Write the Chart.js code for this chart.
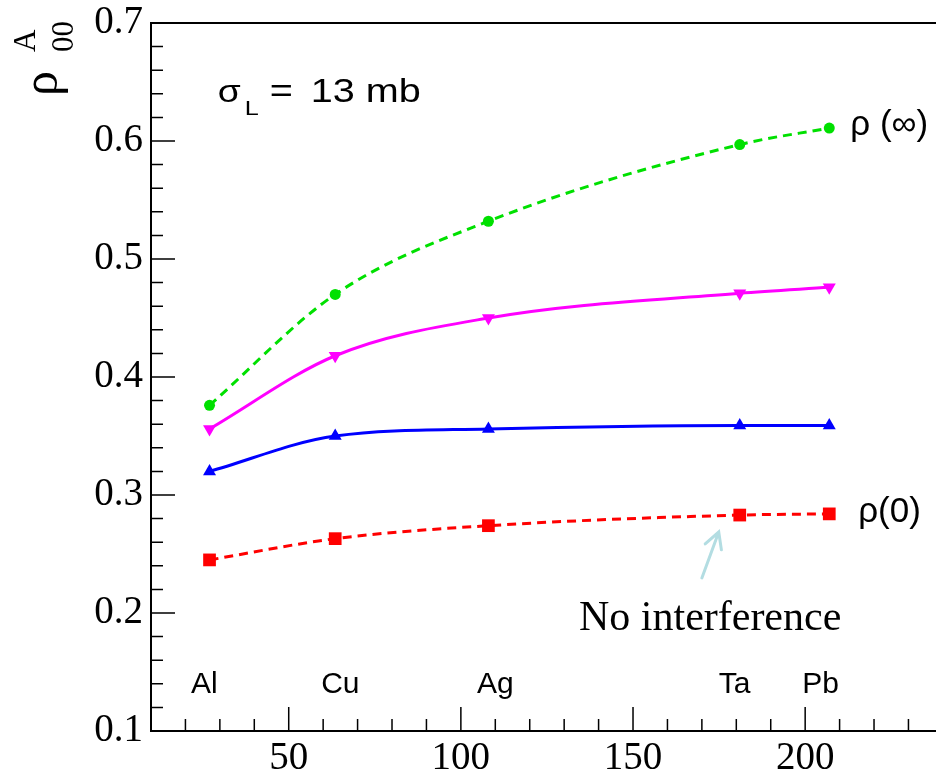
<!DOCTYPE html>
<html>
<head>
<meta charset="utf-8">
<script src="https://cdn.jsdelivr.net/npm/chart.js@4.4.1/dist/chart.umd.min.js"></script>
<style>
  html, body { margin: 0; padding: 0; background: #fff; }
  #rhoChart { display: block; }
</style>
</head>
<body>
<canvas id="rhoChart" width="936" height="778"></canvas>
<script>
// --- data ---
const massNumbers = [27, 63.5, 108, 181, 207];
const elementNames = ['Al', 'Cu', 'Ag', 'Ta', 'Pb'];
const rhoInfinity = [0.376, 0.470, 0.532, 0.597, 0.611];
const rhoMagenta = [0.356, 0.418, 0.450, 0.471, 0.476];
const rhoBlue = [0.320, 0.350, 0.356, 0.359, 0.359];
const rhoZero = [0.245, 0.263, 0.274, 0.283, 0.284];

const xTickValues = [50, 100, 150, 200];
const yTickValues = [0.1, 0.2, 0.3, 0.4, 0.5, 0.6, 0.7];

// label spots in axis units
const elementLabelX = [25.5, 65, 110, 179.5, 204.5];
const elementLabelY = 0.132;

const serif = '"Liberation Serif", "Times New Roman", serif';
const sans = '"Liberation Sans", Arial, sans-serif';

const toPoints = ys => massNumbers.map((x, i) => ({ x: x, y: ys[i] }));

function makeSet(label, values, color, style, radius, dashed, rotation) {
    return {
        label: label,
        data: toPoints(values),
        borderColor: color,
        backgroundColor: color,
        borderWidth: 3,
        borderDash: dashed ? [9, 6] : [],
        cubicInterpolationMode: 'monotone',
        pointStyle: style,
        pointRadius: radius,
        pointRotation: rotation || 0,
        pointBorderWidth: 0,
        fill: false
    };
}

// stretched sans text, like the original's wide Helvetica
function wideText(c, txt, x, y, size) {
    c.save();
    c.font = size + 'px ' + sans;
    c.translate(x, y);
    c.scale(1.2, 1);
    c.fillText(txt, 0, 0);
    c.restore();
}

// --- ticks, frame and annotations ---
const decorPlugin = {
    id: 'decor',
    afterDatasetsDraw(chart) {
        const c = chart.ctx;
        const xs = chart.scales.x;
        const ys = chart.scales.y;
        const a = chart.chartArea;

        c.save();
        c.strokeStyle = '#000';
        c.lineWidth = 2;

        // frame (right edge is cut off in the original)
        c.beginPath();
        c.moveTo(a.right, a.top);
        c.lineTo(a.left, a.top);
        c.lineTo(a.left, a.bottom);
        c.lineTo(a.right, a.bottom);
        c.stroke();

        // inner tick marks
        c.lineWidth = 1.5;
        c.beginPath();
        for (let v = 10; v <= xs.max; v += 10) {
            const px = xs.getPixelForValue(v);
            const len = v % 50 === 0 ? 24 : 12;
            c.moveTo(px, a.bottom);
            c.lineTo(px, a.bottom - len);
        }
        for (let i = 5; i <= 35; i++) {
            const py = ys.getPixelForValue(i / 50);
            const len = i % 5 === 0 ? 24 : 12;
            c.moveTo(a.left, py);
            c.lineTo(a.left + len, py);
        }
        c.stroke();

        c.fillStyle = '#000';
        c.textBaseline = 'alphabetic';

        // element names
        c.font = '30px ' + sans;
        c.textAlign = 'center';
        elementNames.forEach((name, i) => {
            c.fillText(name, xs.getPixelForValue(elementLabelX[i]), ys.getPixelForValue(elementLabelY));
        });

        // sigma_L = 13 mb
        c.textAlign = 'left';
        const sx = xs.getPixelForValue(29.4);
        const sy = ys.getPixelForValue(0.633);
        wideText(c, 'σ', sx, sy, 31);
        wideText(c, 'L', sx + 27, sy + 13, 21);
        wideText(c, '=', sx + 52, sy, 33);
        wideText(c, '13 mb', sx + 93, sy, 33);

        // curve names
        c.font = '35px ' + sans;
        c.fillText('ρ (∞)', xs.getPixelForValue(213.1), ys.getPixelForValue(0.6047));
        c.fillText('ρ(0)', xs.getPixelForValue(215.4), ys.getPixelForValue(0.277));

        // No interference + arrow
        c.font = '42px ' + serif;
        c.fillText('No interference', xs.getPixelForValue(134.3), ys.getPixelForValue(0.1856));

        const x1 = xs.getPixelForValue(170.0), y1 = ys.getPixelForValue(0.2297);
        const x2 = xs.getPixelForValue(174.9), y2 = ys.getPixelForValue(0.2686);
        const ang = Math.atan2(y2 - y1, x2 - x1);
        c.strokeStyle = '#b3dde2';
        c.lineWidth = 3;
        c.lineCap = 'round';
        c.beginPath();
        c.moveTo(x1, y1);
        c.lineTo(x2, y2);
        c.moveTo(x2 - 18 * Math.cos(ang - 0.5), y2 - 18 * Math.sin(ang - 0.5));
        c.lineTo(x2, y2);
        c.lineTo(x2 - 18 * Math.cos(ang + 0.5), y2 - 18 * Math.sin(ang + 0.5));
        c.stroke();

        // y axis title rho^A_00, rotated
        c.fillStyle = '#000';
        c.rotate(-Math.PI / 2);
        c.font = '50px ' + serif;
        c.fillText('ρ', -96, 57);
        c.font = '31px ' + serif;
        c.fillText('A', -52, 35);
        c.fillText('00', -52, 73);
        c.restore();
    }
};

const chart = new Chart(document.getElementById('rhoChart').getContext('2d'), {
    type: 'line',
    data: {
        datasets: [
            makeSet('rho(inf)', rhoInfinity, '#00e000', 'circle', 5.5, true),
            makeSet('magenta', rhoMagenta, '#ff00ff', 'triangle', 7.5, false, 180),
            makeSet('blue', rhoBlue, '#0000ff', 'triangle', 7.5, false),
            makeSet('rho(0)', rhoZero, '#ff0000', 'rect', 9, true)
        ]
    },
    options: {
        responsive: false,
        animation: false,
        devicePixelRatio: 1,
        layout: { autoPadding: false, padding: { top: 23, right: 0, bottom: 0, left: 0 } },
        plugins: {
            legend: { display: false },
            tooltip: { enabled: false }
        },
        scales: {
            x: {
                type: 'linear',
                min: 10,
                max: 238,
                grid: { display: false, drawTicks: false },
                border: { display: false },
                afterBuildTicks: s => { s.ticks = xTickValues.map(v => ({ value: v })); },
                afterFit: s => {
                    s.height = 47;
                    s.paddingLeft = 0;
                    s.paddingRight = 0;
                },
                ticks: {
                    color: '#000',
                    padding: 4,
                    maxRotation: 0,
                    font: { family: serif, size: 39 }
                }
            },
            y: {
                type: 'linear',
                min: 0.1,
                max: 0.7,
                grid: { display: false, drawTicks: false },
                border: { display: false },
                afterBuildTicks: s => { s.ticks = yTickValues.map(v => ({ value: v })); },
                afterFit: s => {
                    s.width = 151;
                    s.paddingTop = 0;
                    s.paddingBottom = 0;
                },
                ticks: {
                    color: '#000',
                    padding: 8,
                    callback: v => v.toFixed(1),
                    font: { family: serif, size: 39 }
                }
            }
        }
    },
    plugins: [decorPlugin]
});
</script>
</body>
</html>
